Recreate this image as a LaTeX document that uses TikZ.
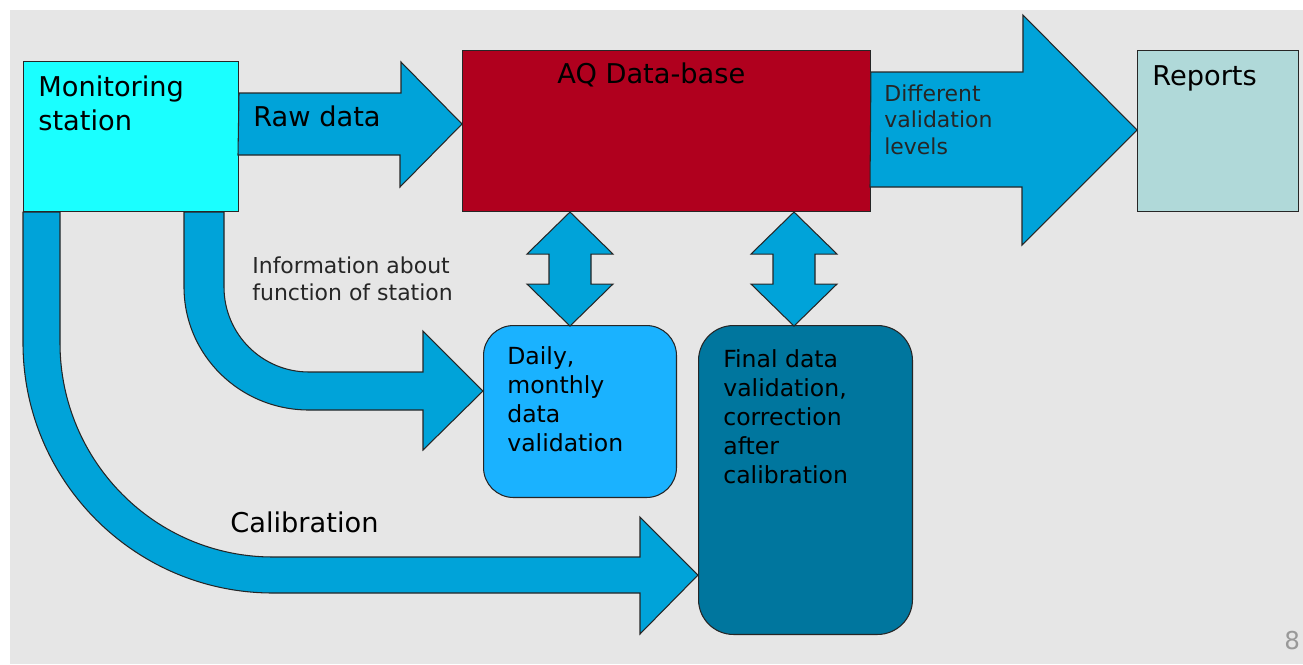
\documentclass[tikz,border=0pt]{standalone}
\usepackage{fontspec}
\setmainfont{DejaVu Sans}
\usetikzlibrary{positioning, calc}

\definecolor{bggrey}{HTML}{E6E6E6}
\definecolor{stationcyan}{HTML}{1AFFFF}
\definecolor{flowblue}{HTML}{00A3D9}
\definecolor{dbred}{HTML}{B0001E}
\definecolor{reportteal}{HTML}{B0D9D9}
\definecolor{dailyblue}{HTML}{1AB2FF}
\definecolor{finalteal}{HTML}{00769E}

\tikzstyle{box} = [rectangle, draw=black!85, line width=0.6pt, inner sep=0pt, anchor=north west]
\tikzstyle{roundbox} = [box, rounded corners=0.6cm]
\tikzstyle{bigarrow} = [draw=black!85, line width=0.6pt, fill=flowblue, line join=miter]
\tikzstyle{bigtext} = [font=\fontsize{15.5}{18.8}\selectfont, align=left, anchor=base west, inner sep=0pt]
\tikzstyle{boxtext} = [font=\fontsize{13.4}{16.5}\selectfont, align=left, anchor=base west, inner sep=0pt]
\tikzstyle{smalltext} = [font=\fontsize{12.5}{15}\selectfont, align=left, anchor=base west, inner sep=0pt, text=black!85]

\begin{document}
\begin{tikzpicture}[x=0.02cm, y=-0.02cm]
\useasboundingbox (0,0) rectangle (1303,664);
\fill [bggrey] (10,10) rectangle (1303,664);

% Boxes
\node (station) [box, fill=stationcyan, minimum width=4.3cm, minimum height=3cm] at (23,61) {};
\node (db) [box, fill=dbred, minimum width=8.16cm, minimum height=3.22cm] at (462,50) {};
\node (reports) [box, fill=reportteal, minimum width=3.22cm, minimum height=3.22cm] at (1137,50) {};
\node (daily) [roundbox, fill=dailyblue, minimum width=3.86cm, minimum height=3.44cm] at (483,325) {};
\node (final) [roundbox, rounded corners=0.7cm, fill=finalteal, minimum width=4.28cm, minimum height=6.18cm] at (698,325) {};

% Block arrows along the top
\draw [bigarrow] ($(station.north east)+(0,32)$) -- ++(162,0) -- ++(0,-31)
  -- ($(db.north west)+(0,74)$) -- ++(-62,63) -- ++(0,-32) -- ++(-162,0) -- cycle;
\draw [bigarrow] ($(db.north east)+(0,22)$) -- ++(152,0) -- ++(0,-57)
  -- ($(reports.north west)+(0,80)$) -- ++(-115,115) -- ++(0,-58) -- ++(-152,0) -- cycle;

% Two-way arrows below the data-base
\foreach \dx in {108,332}
  \draw [bigarrow] ($(db.south west)+(\dx,0)$) -- ++(43,42) -- ++(-22,0) -- ++(0,30)
    -- ++(22,0) -- ++(-43,42) -- ++(-43,-42) -- ++(22,0) -- ++(0,-30) -- ++(-22,0) -- cycle;

% Curved arrows from the station
\draw [bigarrow] ($(station.south west)+(161,0)$) -- (184,287)
  .. controls (184,355) and (240,410) .. (309,410) -- (423,410) -- (423,450)
  -- ($(daily.north west)+(0,66)$) -- (423,331) -- (423,372) -- (309,372)
  .. controls (262,372) and (224,334) .. (224,287) -- ($(station.south west)+(201,0)$) -- cycle;
\draw [bigarrow] (station.south west) -- (23,343)
  .. controls (23,481) and (135,593) .. (273,593) -- (640,593) -- (640,634)
  -- ($(final.north west)+(0,250)$) -- (640,517) -- (640,557) -- (273,557)
  .. controls (155,557) and (60,461) .. (60,343) -- ($(station.south west)+(37,0)$) -- cycle;

% Labels (base = last line)
\node (station-txt) [bigtext] at ($(station.north west)+(15,69)$) {Monitoring\\station};
\node (raw-txt) [bigtext] at (253,126) {Raw data};
\node (db-txt) [bigtext] at ($(db.north west)+(95,33)$) {AQ Data-base};
\node (reports-txt) [bigtext] at ($(reports.north west)+(15,35)$) {Reports};
\node (levels-txt) [smalltext] at (884,154) {Different\\validation\\levels};
\node (info-txt) [smalltext] at (252,300) {Information about\\function of station};
\node (daily-txt) [boxtext] at ($(daily.north west)+(24,126)$) {Daily,\\monthly\\data\\validation};
\node (final-txt) [boxtext] at ($(final.north west)+(25,158)$) {Final data\\validation,\\correction\\after\\calibration};
\node (calib-txt) [bigtext] at (230,532) {Calibration};
\node (page-num) [font=\fontsize{14}{14}\selectfont, text=black!40, anchor=base west, inner sep=0pt] at (1284,649) {8};

\end{tikzpicture}
\end{document}
